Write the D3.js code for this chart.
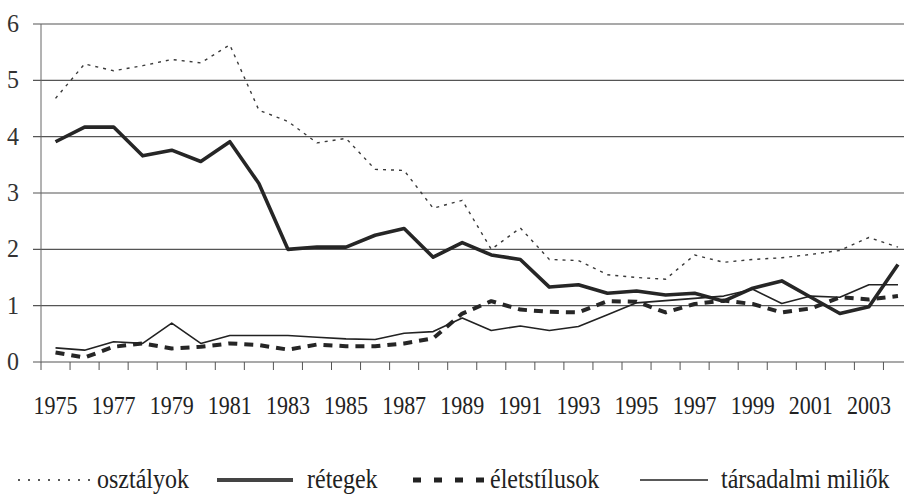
<html>
<head>
<script src="https://d3js.org/d3.v7.min.js"></script>
<style>
  body { margin: 0; background: #fff; }
</style>
</head>
<body>
<svg id="MAINSVG" width="904" height="494"></svg>
<script>
  var years = d3.range(1975, 2005);
  var osztalyok = [4.68, 5.29, 5.17, 5.26, 5.37, 5.31, 5.63, 4.47, 4.27, 3.89,
                   3.97, 3.42, 3.40, 2.73, 2.87, 2.00, 2.38, 1.82, 1.80, 1.55,
                   1.50, 1.47, 1.90, 1.77, 1.82, 1.85, 1.91, 1.98, 2.21, 2.04];
  var retegek = [3.91, 4.17, 4.17, 3.66, 3.76, 3.56, 3.91, 3.17, 2.00, 2.04,
                 2.04, 2.25, 2.37, 1.86, 2.12, 1.90, 1.82, 1.33, 1.37, 1.22,
                 1.26, 1.19, 1.22, 1.08, 1.31, 1.44, 1.15, 0.86, 0.98, 1.73];
  var eletstilusok = [0.17, 0.08, 0.27, 0.33, 0.24, 0.27, 0.33, 0.30, 0.22, 0.31,
                      0.28, 0.28, 0.33, 0.42, 0.86, 1.08, 0.93, 0.89, 0.88, 1.08,
                      1.07, 0.88, 1.03, 1.09, 1.03, 0.88, 0.95, 1.15, 1.11, 1.17];
  var miliok = [0.25, 0.21, 0.36, 0.33, 0.69, 0.33, 0.47, 0.47, 0.47, 0.44,
                0.41, 0.40, 0.51, 0.54, 0.78, 0.56, 0.64, 0.56, 0.63, 0.84,
                1.05, 1.09, 1.13, 1.17, 1.29, 1.04, 1.17, 1.15, 1.37, 1.37];
  var xLabels = years.filter(function(d){ return d % 2 == 1; });
  var seriesNames = ["osztályok", "rétegek", "életstílusok", "társadalmi miliők"];

  var FONT = "'Liberation Serif'";
  var SVG = d3.select("#MAINSVG");

  var plotLeft = 41, plotRight = 912.5, plotTop = 24, plotBottom = 362;
  var x = d3.scaleBand().domain(years).range([plotLeft, plotRight]).padding(0);
  var y = d3.scaleLinear().domain([0, 6]).range([plotBottom, plotTop]);
  var cx = function(d){ return x(d) + x.bandwidth()/2; };

  // gridlines + left ticks
  y.ticks(6).forEach(function(t){
    SVG.append("line")
       .attr("x1", plotLeft-8).attr("x2", 904)
       .attr("y1", y(t)).attr("y2", y(t))
       .attr("stroke", "#555").attr("stroke-width", 1.2);
    SVG.append("text")
       .attr("transform", "translate(19," + (y(t)+8) + ") scale(1,1.08)")
       .attr("text-anchor", "end")
       .attr("font-family", FONT)
       .attr("fill", "#333")
       .style("font-size", "24px")
       .text(t);
  });

  // y axis line
  SVG.append("line")
     .attr("x1", plotLeft).attr("x2", plotLeft)
     .attr("y1", plotTop).attr("y2", plotBottom)
     .attr("stroke", "#666").attr("stroke-width", 1);

  // x ticks at category boundaries
  years.concat([2005]).forEach(function(d){
    var xx = d == 2005 ? plotRight : x(d);
    SVG.append("line")
       .attr("x1", xx).attr("x2", xx)
       .attr("y1", plotBottom).attr("y2", plotBottom+8)
       .attr("stroke", "#555").attr("stroke-width", 1);
  });

  xLabels.forEach(function(d){
    SVG.append("text")
       .attr("transform", "translate(" + cx(d) + ",414) scale(1,1.12)")
       .attr("text-anchor", "middle")
       .attr("font-family", FONT)
       .attr("fill", "#222")
       .style("font-size", "22px")
       .text(d);
  });

  var styles = [
    {data: osztalyok, width: 1.4, dash: "3,5", color: "#3a3a3a"},
    {data: retegek, width: 3.6, dash: null, color: "#262626"},
    {data: eletstilusok, width: 4, dash: "9,7", color: "#262626"},
    {data: miliok, width: 1.6, dash: null, color: "#222"}
  ];

  var line = d3.line()
    .x(function(d, i){ return cx(years[i]); })
    .y(function(d){ return y(d); });

  styles.forEach(function(s){
    SVG.append("path")
       .attr("d", line(s.data))
       .attr("fill", "none")
       .attr("stroke", s.color)
       .attr("stroke-width", s.width)
       .attr("stroke-dasharray", s.dash)
       .attr("stroke-linejoin", "round");
  });

  // legend
  var legend = [
    {x1: 18, x2: 90, tx: 97, width: 1.4, dash: "2,8"},
    {x1: 217, x2: 293, tx: 307, width: 4, dash: null},
    {x1: 413, x2: 486, tx: 490, width: 5, dash: "8,13"},
    {x1: 640, x2: 708, tx: 721, width: 1.6, dash: null}
  ];
  legend.forEach(function(l, i){
    SVG.append("line")
       .attr("x1", l.x1).attr("x2", l.x2)
       .attr("y1", 480).attr("y2", 480)
       .attr("stroke", i == 1 ? "#444" : "#222")
       .attr("stroke-width", l.width)
       .attr("stroke-dasharray", l.dash);
    SVG.append("text")
       .attr("transform", "translate(" + l.tx + ",488) scale(1,1.12)")
       .attr("font-family", FONT)
       .attr("fill", "#222")
       .style("font-size", "24px")
       .text(seriesNames[i]);
  });
</script>
</body>
</html>
